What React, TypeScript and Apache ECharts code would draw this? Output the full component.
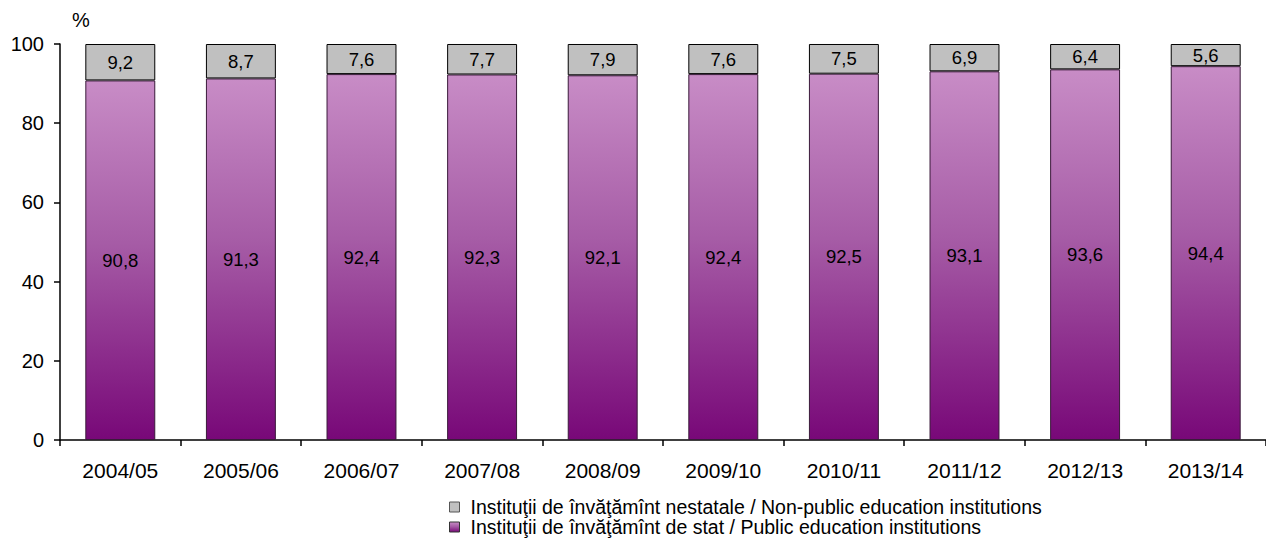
import React, { useEffect, useRef } from "react";
import * as echarts from "echarts";

const categories = ["2004/05", "2005/06", "2006/07", "2007/08", "2008/09", "2009/10", "2010/11", "2011/12", "2012/13", "2013/14"];
const publicValues = [90.8, 91.3, 92.4, 92.3, 92.1, 92.4, 92.5, 93.1, 93.6, 94.4];
const nonPublicValues = [9.2, 8.7, 7.6, 7.7, 7.9, 7.6, 7.5, 6.9, 6.4, 5.6];
const yTicks = [0, 20, 40, 60, 80, 100];
const nonPublicName = "Instituţii de învăţămînt nestatale / Non-public education institutions";
const publicName = "Instituţii de învăţămînt de stat / Public education institutions";

const FONT = "Liberation Sans, Arial, sans-serif";
const fmt = (v: number) => v.toFixed(1).replace(".", ",");

export default function App() {
  const ref = useRef<HTMLDivElement>(null);
  useEffect(() => {
    if (!ref.current) return;
    const chart = echarts.init(ref.current, null, { renderer: "svg" });
    const purple = new echarts.graphic.LinearGradient(0, 0, 0, 1, [
      { offset: 0, color: "#C88CC6" },
      { offset: 0.45, color: "#A65CA6" },
      { offset: 1, color: "#780878" },
    ]);
    const legendText = { fontFamily: FONT, fontSize: 19.5, lineHeight: 18, height: 18, color: "#000", padding: [0, 0, 0, 6] };
    chart.setOption({
      animation: false,
      textStyle: { fontFamily: FONT },
      grid: { left: 60, right: 0, top: 44, bottom: 103, containLabel: false },
      legend: [
        {
          left: 449,
          top: 497,
          padding: 0,
          itemWidth: 10,
          itemHeight: 10,
          icon: "rect",
          textStyle: legendText,
          data: [{ name: nonPublicName, itemStyle: { color: "#C0C0C0", borderColor: "#555", borderWidth: 1 } }],
        },
        {
          left: 449,
          top: 517,
          padding: 0,
          itemWidth: 10,
          itemHeight: 10,
          icon: "rect",
          textStyle: legendText,
          data: [{ name: publicName, itemStyle: { borderColor: "#333", borderWidth: 1 } }],
        },
      ],
      xAxis: {
        type: "category",
        data: categories,
        axisLine: { lineStyle: { color: "#000", width: 1.5 } },
        axisTick: { show: true, alignWithLabel: false, length: 6, lineStyle: { color: "#000", width: 1.5 } },
        axisLabel: { color: "#000", fontSize: 21, fontFamily: FONT, margin: 20 },
      },
      yAxis: {
        type: "value",
        min: yTicks[0],
        max: yTicks[yTicks.length - 1],
        interval: 20,
        name: "%",
        nameLocation: "end",
        nameGap: 14,
        nameTextStyle: { color: "#000", fontSize: 20, fontFamily: FONT, align: "left", padding: [0, 0, 0, 12] },
        axisLine: { show: true, lineStyle: { color: "#000", width: 1.5 } },
        axisTick: { show: true, length: 6, lineStyle: { color: "#000", width: 1.5 } },
        axisLabel: { color: "#000", fontSize: 20, fontFamily: FONT, margin: 16 },
        splitLine: { show: false },
      },
      series: [
        {
          name: publicName,
          type: "bar",
          stack: "total",
          barWidth: "58%",
          data: publicValues,
          itemStyle: { color: purple, borderColor: "#3a1a3a", borderWidth: 1 },
          label: {
            show: true,
            position: "inside",
            color: "#000",
            fontSize: 18.5,
            fontFamily: FONT,
            formatter: (p: any) => fmt(p.value),
          },
        },
        {
          name: nonPublicName,
          type: "bar",
          stack: "total",
          barWidth: "58%",
          data: nonPublicValues,
          itemStyle: { color: "#C0C0C0", borderColor: "#000", borderWidth: 1 },
          label: {
            show: true,
            position: "inside",
            color: "#000",
            fontSize: 18.5,
            fontFamily: FONT,
            formatter: (p: any) => fmt(p.value),
          },
        },
      ],
    });
    return () => chart.dispose();
  }, []);
  return (
    <div
      ref={ref}
      style={{ position: "fixed", left: 0, top: 0, width: 1266, height: 543, background: "#fff" }}
    />
  );
}
